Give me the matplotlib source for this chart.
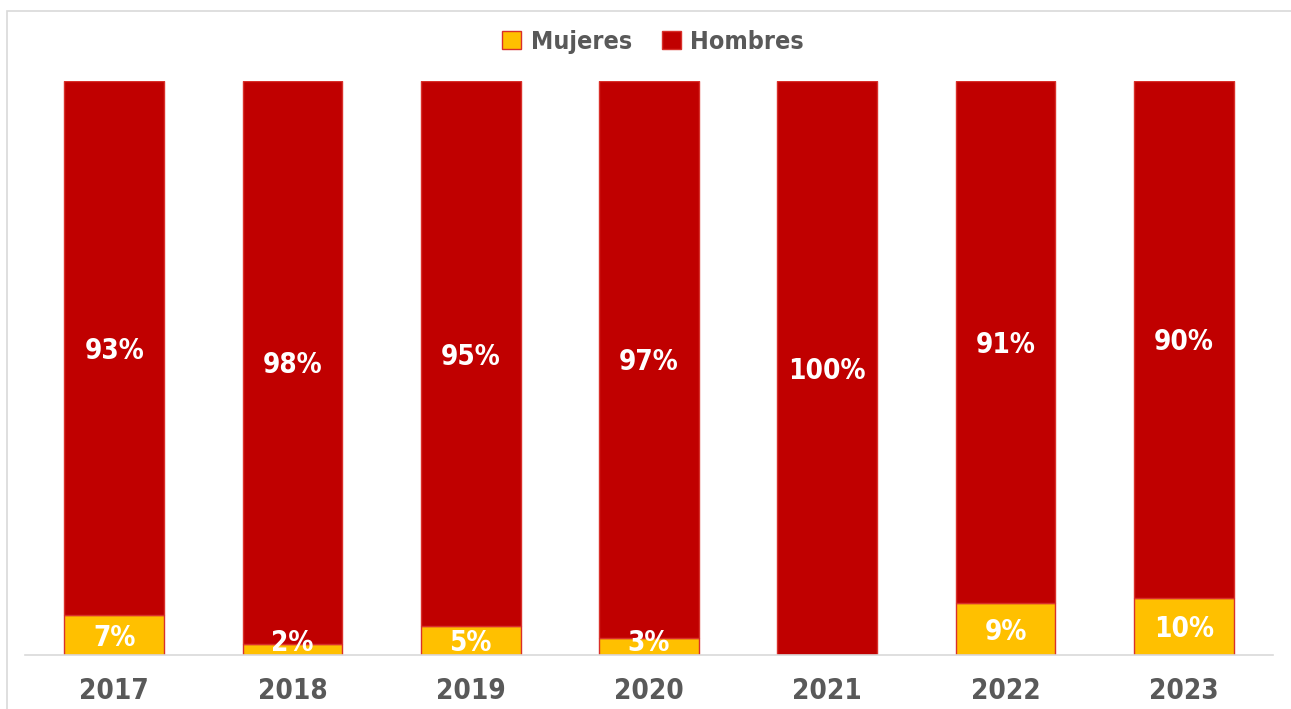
import numpy as np
import matplotlib.pyplot as plt
from matplotlib import font_manager

years = ["2017", "2018", "2019", "2020", "2021", "2022", "2023"]
mujeres = [7, 2, 5, 3, 0, 9, 10]
hombres = [93, 98, 95, 97, 100, 91, 90]

names = {f.name for f in font_manager.fontManager.ttflist}
fam = [f for f in ["Liberation Sans Narrow", "DejaVu Sans"] if f in names]
plt.rcParams['font.family'] = fam
plt.rcParams['font.weight'] = 'bold'
plt.rcParams['font.stretch'] = 'condensed'

yellow = '#FFC000'
red = '#C00000'
grey = '#595959'

fig = plt.figure(figsize=(12.91, 7.09), dpi=100)
ax = fig.add_axes([25 / 1291, 54 / 709, 1248 / 1291, 574 / 709])

x = np.arange(len(years))
w = 0.56
ax.bar(x, mujeres, w, color=yellow, edgecolor='#D9302A', linewidth=1, label='Mujeres')
ax.bar(x, hombres, w, bottom=mujeres, color=red, edgecolor='#D9302A', linewidth=1, label='Hombres')

for i in range(len(years)):
    if mujeres[i] > 0:
        ax.text(x[i], max(mujeres[i] / 2, 2.6), f"{mujeres[i]}%", ha='center', va='center_baseline',
                color='white', fontsize=20, fontweight='bold', stretch='condensed')
    ax.text(x[i], mujeres[i] + hombres[i] / 2, f"{hombres[i]}%", ha='center', va='center_baseline',
            color='white', fontsize=20, fontweight='bold', stretch='condensed')

ax.set_xlim(-0.5, len(years) - 0.5)
ax.set_ylim(0, 100)
ax.set_xticks(x)
ax.set_xticklabels(years, fontsize=20, fontweight='bold', color=grey, stretch='condensed')
ax.tick_params(axis='x', length=0, pad=16)
ax.set_yticks([])
for s in ['top', 'right', 'left']:
    ax.spines[s].set_visible(False)
ax.spines['bottom'].set_color('#D9D9D9')
ax.spines['bottom'].set_linewidth(1.2)

leg = fig.legend(loc='center', bbox_to_anchor=(653 / 1291, 1 - 42 / 709), ncol=2, frameon=False,
                 prop={'size': 18, 'weight': 'bold', 'stretch': 'condensed'},
                 handlelength=0.75, handleheight=0.75, handletextpad=0.4, columnspacing=1.2)
for t in leg.get_texts():
    t.set_color(grey)

# light frame around the chart area
fig.patches.append(plt.Rectangle((7 / 1291, -0.1), 1.2, 1 - 11 / 709 + 0.1, transform=fig.transFigure,
                                 fill=False, edgecolor='#D9D9D9', linewidth=1.2))

fig.savefig("out.png", dpi=100)
